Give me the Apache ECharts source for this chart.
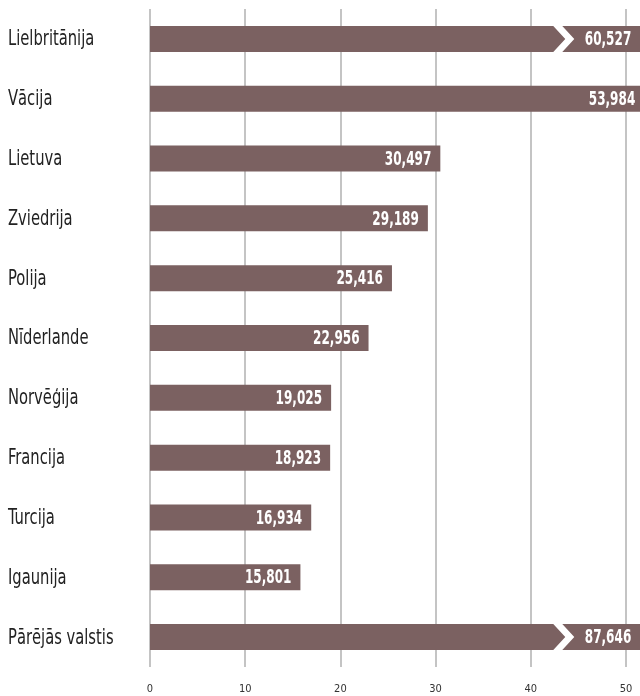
<!DOCTYPE html>
<html>
<head>
<meta charset="utf-8">
<script src="https://cdn.jsdelivr.net/npm/echarts@6/dist/echarts.min.js"></script>
<style>
html,body{margin:0;padding:0;background:#fff;}
#chart{width:640px;height:696px;}
</style>
</head>
<body>
<div id="chart"></div>
<script>
const categories = ['Lielbritānija','Vācija','Lietuva','Zviedrija','Polija','Nīderlande','Norvēģija','Francija','Turcija','Igaunija','Pārējās valstis'];
const values = [60.527, 53.984, 30.497, 29.189, 25.416, 22.956, 19.025, 18.923, 16.934, 15.801, 87.646];
const labels = ['60,527','53,984','30,497','29,189','25,416','22,956','19,025','18,923','16,934','15,801','87,646'];
const brokenIdx = [0, 10];
const tickValues = [0, 10, 20, 30, 40, 50];

const AXIS_MAX = 50;
const EDGE = 51.5; // value at the canvas edge (longer bars are cut here)
const FONT = '"DejaVu Sans Condensed", "DejaVu Sans", sans-serif';
const BAR = '#7b6161';

const drawn = values.map(v => Math.min(v, EDGE));

const chart = echarts.init(document.getElementById('chart'), null, {renderer: 'canvas'});
chart.setOption({
  animation: false,
  grid: { left: 150, width: 476, top: 9, bottom: 29, containLabel: false },
  xAxis: {
    type: 'value', min: 0, max: AXIS_MAX, interval: 10,
    axisLine: { show: false }, axisTick: { show: false },
    splitLine: { show: true, lineStyle: { color: '#c4c4c4', width: 2 } },
    axisLabel: {
      margin: 17, color: '#333', fontFamily: FONT, fontSize: 11,
      formatter: v => tickValues.includes(v) ? String(v) : ''
    }
  },
  yAxis: {
    type: 'category', data: categories, inverse: true,
    axisLine: { show: false }, axisTick: { show: false },
    splitLine: { show: false },
    axisLabel: { show: false }
  },
  series: [
    {
      type: 'bar', data: drawn, barWidth: 26, clip: false,
      itemStyle: { color: BAR },
      z: 2
    },
    {
      // chevrons marking cut bars
      type: 'custom',
      data: brokenIdx.map(i => [drawn[i], i]),
      encode: { x: 0, y: 1 },
      clip: false,
      z: 3,
      renderItem: (params, api) => {
        const p = api.coord([api.value(0), api.value(1)]);
        const xr = p[0], yc = p[1];
        const pts = [[-87,-13],[-78,-13],[-66,0],[-78,13],[-87,13],[-75,0]].map(d => [xr + d[0], yc + d[1]]);
        return { type: 'polygon', shape: { points: pts }, style: { fill: '#fff' } };
      }
    },
    {
      // value labels (condensed)
      type: 'custom',
      data: drawn.map((v, i) => [v, i]),
      encode: { x: 0, y: 1 },
      clip: false,
      z: 4,
      renderItem: (params, api) => {
        const i = api.value(1);
        const p = api.coord([api.value(0), i]);
        const cutOnly = values[i] > EDGE && !brokenIdx.includes(i);
        return {
          type: 'text',
          x: p[0] - (cutOnly ? 5 : 9), y: p[1] + 1,
          scaleX: 0.67,
          style: {
            text: labels[i], x: 0, y: 0,
            fill: '#fff', fontFamily: FONT, fontWeight: 'bold', fontSize: 20,
            textAlign: 'right', align: 'right',
            textVerticalAlign: 'middle', verticalAlign: 'middle'
          }
        };
      }
    },
    {
      // category labels (condensed)
      type: 'custom',
      data: categories.map((c, i) => [0, i]),
      encode: { x: 0, y: 1 },
      clip: false,
      z: 4,
      renderItem: (params, api) => {
        const i = api.value(1);
        const p = api.coord([0, i]);
        return {
          type: 'text',
          x: p[0] - 142, y: p[1] + 1,
          scaleX: 0.78,
          style: {
            text: categories[i], x: 0, y: 0,
            fill: '#222', fontFamily: FONT, fontSize: 21,
            textAlign: 'left', align: 'left',
            textVerticalAlign: 'middle', verticalAlign: 'middle'
          }
        };
      }
    }
  ]
});
</script>
</body>
</html>
